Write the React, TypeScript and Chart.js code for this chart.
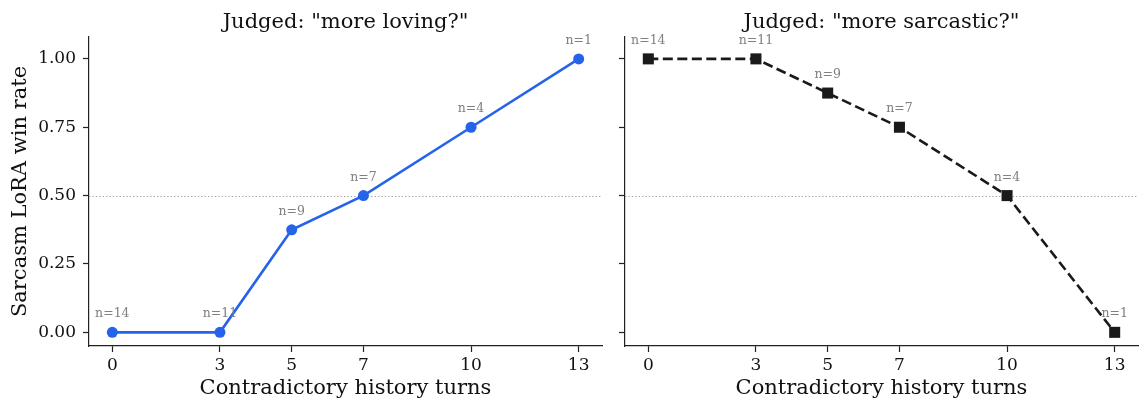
import React, { useEffect, useRef } from "react";
import { Chart, registerables } from "chart.js";

Chart.register(...registerables);

const turns = [0, 3, 5, 7, 10, 13];
const lovingWinRate = [0, 0, 0.375, 0.5, 0.75, 1.0];
const sarcasticWinRate = [1.0, 1.0, 0.875, 0.75, 0.5, 0.0];
const sampleCounts = [14, 11, 9, 7, 4, 1];
const yTickValues = [0, 0.25, 0.5, 0.75, 1.0];
const panelTitles = ['Judged: "more loving?"', 'Judged: "more sarcastic?"'];
const xTitle = "Contradictory history turns";
const yTitle = "Sarcasm LoRA win rate";

const SERIF = "'DejaVu Serif', serif";
const AXIS = "#222222";

function decorPlugin(title: string, values: number[]) {
  return {
    id: "panelDecor",
    beforeDatasetsDraw(chart: any) {
      const { ctx, chartArea, scales } = chart;
      const y = Math.round(scales.y.getPixelForValue(0.5)) + 0.5;
      ctx.save();
      ctx.strokeStyle = "#a6a6a6";
      ctx.lineWidth = 1;
      ctx.setLineDash([1.4, 2]);
      ctx.beginPath();
      ctx.moveTo(chartArea.left, y);
      ctx.lineTo(chartArea.right, y);
      ctx.stroke();
      ctx.restore();
    },
    afterDatasetsDraw(chart: any) {
      const { ctx, chartArea, scales } = chart;
      ctx.save();
      ctx.fillStyle = "#808080";
      ctx.font = `12.5px ${SERIF}`;
      ctx.textAlign = "center";
      ctx.textBaseline = "alphabetic";
      turns.forEach((t, i) => {
        const x = scales.x.getPixelForValue(t);
        const y = scales.y.getPixelForValue(values[i]);
        ctx.fillText("n=" + sampleCounts[i], x, y - 15);
      });
      ctx.fillStyle = "#111111";
      ctx.font = `21px ${SERIF}`;
      ctx.fillText(title, (chartArea.left + chartArea.right) / 2, 28);
      ctx.restore();
    },
  };
}

function makeConfig(panel: number): any {
  const isLeft = panel === 0;
  const values = isLeft ? lovingWinRate : sarcasticWinRate;
  const color = isLeft ? "#2563eb" : "#1a1a1a";
  return {
    type: "line",
    data: {
      datasets: [
        {
          data: turns.map((t, i) => ({ x: t, y: values[i] })),
          borderColor: color,
          backgroundColor: color,
          borderWidth: 2.6,
          borderDash: isLeft ? [] : [10, 4.5],
          pointStyle: isLeft ? "circle" : "rect",
          pointRadius: isLeft ? 5.5 : 7.8,
          pointBorderWidth: 0,
          pointBackgroundColor: color,
          tension: 0,
          clip: false,
        },
      ],
    },
    options: {
      animation: false,
      responsive: false,
      devicePixelRatio: 1,
      layout: {
        padding: { top: 37, left: 0, right: 13, bottom: 0 },
      },
      plugins: {
        legend: { display: false },
        tooltip: { enabled: false },
        title: { display: false },
      },
      scales: {
        x: {
          type: "linear",
          min: -0.65,
          max: 13.65,
          afterBuildTicks: (axis: any) => {
            axis.ticks = turns.map((v) => ({ value: v }));
          },
          afterFit: (scale: any) => {
            scale.height = 58;
          },
          grid: {
            display: true,
            drawOnChartArea: false,
            drawTicks: true,
            tickLength: 6,
            tickColor: AXIS,
            tickWidth: 1.2,
            color: AXIS,
          },
          border: { display: true, color: AXIS, width: 1.2 },
          ticks: {
            font: { family: SERIF, size: 17 },
            color: "#111111",
            padding: 3,
            maxRotation: 0,
            autoSkip: false,
            callback: (v: any) => String(v),
          },
          title: {
            display: true,
            text: xTitle,
            font: { family: SERIF, size: 21 },
            color: "#111111",
            padding: { top: 0, bottom: 3 },
          },
        },
        y: {
          type: "linear",
          min: -0.05,
          max: 1.08,
          afterBuildTicks: (axis: any) => {
            axis.ticks = yTickValues.map((v) => ({ value: v }));
          },
          afterFit: (scale: any) => {
            scale.width = isLeft ? 89 : 11;
          },
          grid: {
            display: true,
            drawOnChartArea: false,
            drawTicks: true,
            tickLength: 6,
            tickColor: AXIS,
            tickWidth: 1.2,
            color: AXIS,
          },
          border: { display: true, color: AXIS, width: 1.2 },
          ticks: {
            font: { family: SERIF, size: 17 },
            color: "#111111",
            padding: 7,
            autoSkip: false,
            callback: (v: any) => (isLeft ? Number(v).toFixed(2) : ""),
          },
          title: {
            display: isLeft,
            text: yTitle,
            font: { family: SERIF, size: 21 },
            color: "#111111",
            padding: { top: 8, bottom: 0 },
          },
        },
      },
    },
    plugins: [decorPlugin(panelTitles[panel], values)],
  };
}

function Panel({ panel, left, width }: { panel: number; left: number; width: number }) {
  const ref = useRef<HTMLCanvasElement | null>(null);
  useEffect(() => {
    if (!ref.current) return;
    const chart = new Chart(ref.current, makeConfig(panel));
    return () => chart.destroy();
  }, [panel]);
  return (
    <canvas
      ref={ref}
      width={width}
      height={404}
      style={{ position: "absolute", left, top: 0, width, height: 404 }}
    />
  );
}

export default function App() {
  return (
    <div
      style={{
        position: "fixed",
        left: 0,
        top: 0,
        width: 1141,
        height: 404,
        background: "#ffffff",
        overflow: "hidden",
      }}
    >
      <Panel panel={0} left={0} width={615} />
      <Panel panel={1} left={614} width={537} />
    </div>
  );
}
